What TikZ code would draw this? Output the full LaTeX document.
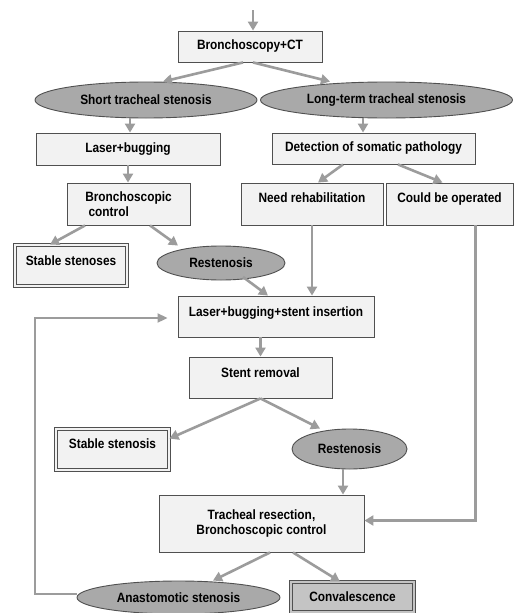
\documentclass[tikz,border=0pt]{standalone}
\usepackage{fontspec}
\setmainfont{Liberation Sans}[FakeStretch=0.88]
\usetikzlibrary{shapes.geometric,arrows.meta,calc}
\definecolor{boxfill}{HTML}{F2F2F2}
\definecolor{boxline}{HTML}{505050}
\definecolor{ellfill}{HTML}{A9A9A9}
\definecolor{arrgray}{HTML}{9C9C9C}
\definecolor{convfill}{HTML}{C4C4C4}
\begin{document}
\begin{tikzpicture}[x=1pt,y=-1pt,
  every node/.style={font=\bfseries\fontsize{13.5}{15}\selectfont, inner sep=0pt},
  box/.style={draw=boxline, fill=boxfill, line width=0.9pt, rectangle},
  dbox/.style={box, double=boxfill, double distance=1.8pt, line width=0.9pt},
  ell/.style={draw=boxline, fill=ellfill, line width=0.9pt, ellipse},
  arr/.style={draw=arrgray, line width=2.6pt, -{Triangle[width=10pt,length=9pt]}},
  fb/.style={draw=arrgray, line width=2pt, -{Triangle[width=9pt,length=10pt]}}
]
\useasboundingbox (0,0) rectangle (514,613);
\fill[white] (0,0) rectangle (514,613);

\node[box, minimum width=144pt, minimum height=31pt] (bct) at (250,46.5) {Bronchoscopy+CT};
\node[ell, minimum width=222pt, minimum height=36pt] (short) at (146,100) {Short tracheal stenosis};
\node[ell, minimum width=252pt, minimum height=36pt] (long) at (386.5,100) {Long-term tracheal stenosis};
\node[box, minimum width=184pt, minimum height=32pt] (laser) at (128,149) {Laser+bugging};
\node[box, minimum width=203pt, minimum height=31pt] (detect) at (373.5,148.5) {Detection of somatic pathology};
\node[box, minimum width=123pt, minimum height=42pt, align=left] (bcontrol) at (128.5,204) {Bronchoscopic\\\ control};
\node[box, minimum width=142pt, minimum height=42pt, text depth=12pt] (need) at (312,204) {Need rehabilitation};
\node[box, minimum width=127pt, minimum height=42pt, text depth=12pt] (could) at (449.5,204) {Could be operated};
\node[dbox, minimum width=112pt, minimum height=41pt, text depth=10pt] (stable1) at (71,265.5) {Stable stenoses};
\node[ell, minimum width=128pt, minimum height=34pt] (rest1) at (221,263) {Restenosis};
\node[box, minimum width=196pt, minimum height=41pt, text depth=9pt] (lbs) at (276,316.5) {Laser+bugging+stent insertion};
\node[box, minimum width=143pt, minimum height=41pt, text depth=9pt] (stent) at (260.5,377.5) {Stent removal};
\node[dbox, minimum width=113pt, minimum height=41pt, text depth=11pt] (stable2) at (112.5,449.5) {Stable stenosis};
\node[ell, minimum width=115pt, minimum height=40pt] (rest2) at (349.5,449) {Restenosis};
\node[box, minimum width=205pt, minimum height=57pt, align=center] (trach) at (261.5,523.5) {Tracheal resection,\\Bronchoscopic control};
\node[ell, minimum width=203pt, minimum height=33pt] (anast) at (178.5,597.5) {Anastomotic stenosis};
\node[dbox, fill=convfill, double=convfill, minimum width=123pt, minimum height=30pt] (conv) at (352.5,597) {Convalescence};

\coordinate (start) at (253,10);
\draw[arr] (start) -- (start |- bct.north);
\draw[arr] ([xshift=-7pt]bct.south) -- ([xshift=17pt]short.north);
\draw[arr] ([xshift=3pt]bct.south) -- ([xshift=-56.5pt]long.north);
\draw[arr] ([xshift=2pt]laser.north |- short.south) -- ([xshift=2pt]laser.north);
\draw[arr] ([xshift=-10.5pt]detect.north |- long.south) -- ([xshift=-10.5pt]detect.north);
\draw[arr] (laser.south) -- (laser.south |- bcontrol.north);
\draw[arr] ([xshift=-30.5pt]detect.south) -- ([xshift=6pt]need.north);
\draw[arr] ([xshift=24.5pt]detect.south) -- ([xshift=-7pt]could.north);
\draw[arr] ([xshift=-43.5pt]bcontrol.south) -- ([xshift=-21pt]stable1.north);
\draw[arr] ([xshift=21.5pt]bcontrol.south) -- ([xshift=-43pt]rest1.north);
\draw[arr] ([xshift=22pt,yshift=-14pt]rest1.center) -- ([xshift=-8pt]lbs.north);
\draw[arr] (need.south) -- (need.south |- lbs.north);
\draw[arr] (stent.north |- lbs.south) -- (stent.north);
\draw[arr] (stent.south) -- ([yshift=-10pt]stable2.north east);
\draw[arr] (stent.south) -- ([xshift=-29.5pt]rest2.north);
\draw[arr] ([xshift=-6.5pt]rest2.south) -- ([xshift=-6.5pt]rest2.south |- trach.north);
\draw[arr] ([xshift=26pt]could.south) |- ([yshift=3pt]trach.east);
\draw[arr] ([xshift=8.5pt]trach.south) -- ([xshift=34.5pt]anast.north);
\draw[arr] ([xshift=31.5pt]trach.south) -- ([xshift=-12.5pt]conv.north);
\draw[fb] ([yshift=4pt]anast.west) -- ++(-42,0) |- ([xshift=-10pt,yshift=-1.5pt]lbs.west);
\end{tikzpicture}
\end{document}
